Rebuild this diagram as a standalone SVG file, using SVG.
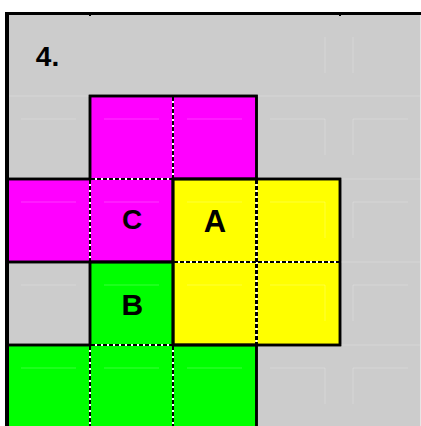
<svg xmlns="http://www.w3.org/2000/svg" width="421" height="426" viewBox="0 0 421 426">
<style>
.shape{stroke:#000;stroke-width:2.5;stroke-linejoin:miter}
.faint{stroke:#fff;stroke-opacity:0.22;stroke-width:1;fill:none}
.dw{stroke:#fff;stroke-width:2;fill:none}
.db{stroke:#000;stroke-width:2;stroke-dasharray:4 2;fill:none}
.lbl{font-family:"Liberation Sans",Arial,sans-serif;font-weight:bold;fill:#000;text-anchor:middle}
</style>
<rect x="0" y="0" width="421" height="426" fill="#fff"/>
<rect x="5" y="12" width="415" height="414" fill="#cccccc"/>
<rect x="420" y="12" width="1" height="414" fill="#e6e6e6"/>

<g id="shape-C">
<path class="shape" fill="#ff00ff" d="M90,96 H256.5 V179 H173 V262 H7 V179 H90 Z"/>
</g>
<g id="shape-A">
<rect class="shape" fill="#ffff00" x="173" y="179" width="167" height="166"/>
</g>
<g id="shape-B">
<path class="shape" fill="#00ff00" d="M90,262 H173 V345 H256.5 V430 H7 V345 H90 Z"/>
</g>

<g id="texture" class="faint">
<path d="M5,96H420M5,179H420M5,262H420M5,345H420"/>
<path d="M21,119H76M104,119H159M187,119H242M270,119H325M353,119H408
M21,202H76M104,202H159M187,202H242M270,202H325M353,202H408
M21,285H76M104,285H159M187,285H242M270,285H325M353,285H408
M21,368H76M104,368H159M187,368H242M270,368H325M353,368H408"/>
<path d="M325,37V73M353,37V73M325,119V155M353,119V155M325,202V238M353,202V238M325,285V321M353,285V321M325,368V404M353,368V404"/>
</g>

<g id="connectors">
<path class="dw" d="M173,97V178M91,179H172M90,180V261M256.5,180V344M174,262H339M91,345H172M90,346V426M173,346V426"/>
<path class="db" d="M173,97V178M91,179H172M90,180V261M174,262H339M91,345H172M90,346V426M173,346V426"/>
<path class="db" style="stroke-width:3" d="M256.5,180V344"/>
</g>

<g id="outline">
<path class="shape" fill="none" d="M90,96 H256.5 V179 H173 V262 H7 V179 H90 Z"/>
<rect class="shape" fill="none" x="173" y="179" width="167" height="166"/>
<path class="shape" fill="none" d="M90,262 H173 V345 H256.5 V430 H7 V345 H90 Z"/>
</g>

<g id="frame">
<rect x="5" y="12" width="4" height="414" fill="#000"/>
<rect x="5" y="12" width="416" height="3" fill="#000"/>
<rect x="89" y="15" width="2" height="1" fill="#000"/>
<rect x="339" y="15" width="2" height="1" fill="#000"/>
</g>

<g id="title"><text class="lbl" x="47.5" y="65.5" font-size="28">4.</text></g>
<g id="label-C"><text class="lbl" x="132" y="229" font-size="28">C</text></g>
<g id="label-A"><text class="lbl" x="215" y="231.5" font-size="31">A</text></g>
<g id="label-B"><text class="lbl" x="132.3" y="314.5" font-size="30">B</text></g>
</svg>
